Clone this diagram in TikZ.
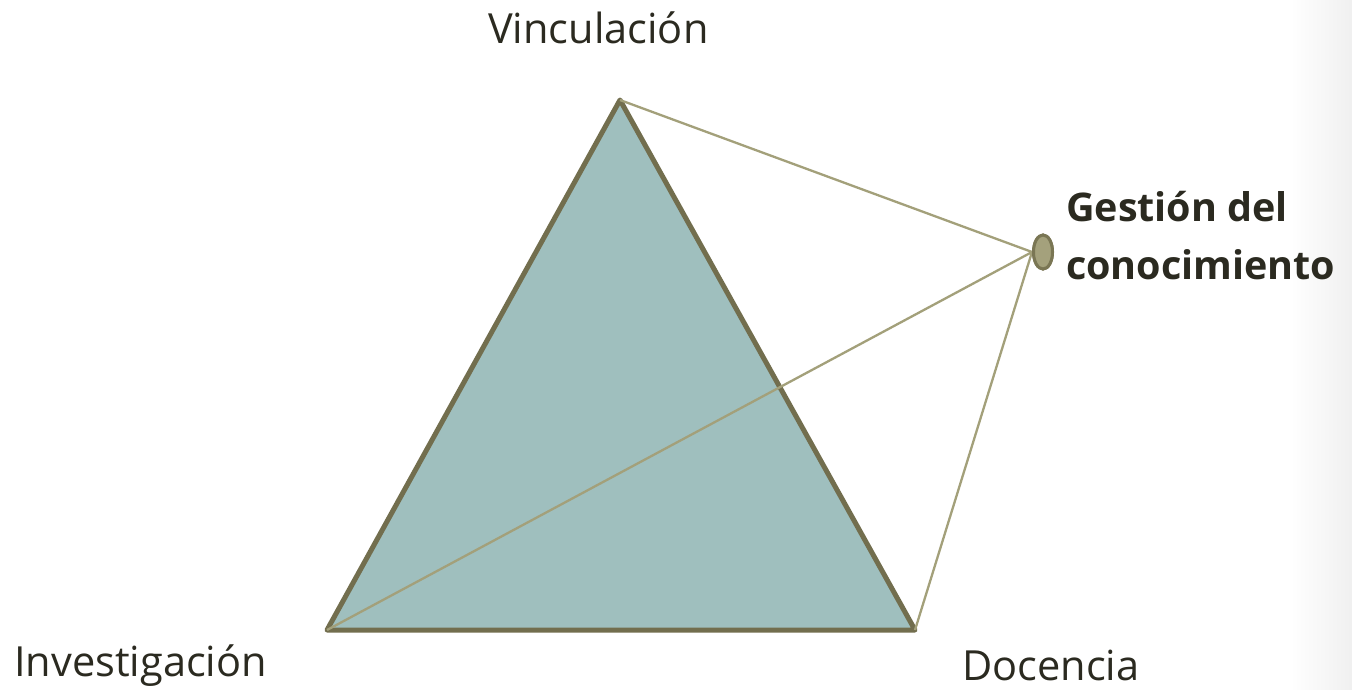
\documentclass[tikz,border=0pt]{standalone}
\usepackage{fontspec}
\setmainfont{Open Sans}
\usetikzlibrary{shapes.geometric}
\definecolor{tfill}{HTML}{9FBFBE}
\definecolor{tedge}{HTML}{726E4E}
\definecolor{thin}{HTML}{A3A07A}
\definecolor{efill}{HTML}{A4A17C}
\definecolor{eedge}{HTML}{7A7654}
\definecolor{txt}{HTML}{2B2A20}
\tikzset{
  lbl/.style={anchor=base west,inner sep=0pt,text=txt,font=\fontsize{41.5}{58}\selectfont},
  conn/.style={draw=thin,line width=2.3pt},
  tri/.style={draw=tedge,fill=tfill,line width=5pt,line join=round},
  hub/.style={ellipse,draw=eedge,fill=efill,line width=3pt,minimum width=19pt,minimum height=34pt,inner sep=0pt}
}
\begin{document}
\begin{tikzpicture}[x=1pt,y=-1pt]
\useasboundingbox (0,0) rectangle (1352,689);
\fill[white] (0,0) rectangle (1352,689);
\shade[left color=white,right color=black!6] (1290,0) rectangle (1352,689);
\coordinate (v) at (620,100);
\coordinate (i) at (327,630);
\coordinate (d) at (915,630);
\path[tri] (v) -- (d) -- (i) -- cycle;
\node[hub] (g) at (1043,252) {};
\draw[conn] (g.west) -- (v);
\draw[conn] (g.west) -- (i);
\draw[conn] (g.west) -- (d);
\node[hub] at (g) {};
\node[lbl] (tv) at (488,43) {Vinculación};
\node[lbl] (ti) at (14,676) {Investigación};
\node[lbl] (td) at (962,680) {Docencia};
\node[lbl,anchor=north west,align=left,font=\bfseries\fontsize{39.5}{58}\selectfont] (tg) at (1066,191) {Gestión del\\conocimiento};
\end{tikzpicture}
\end{document}
